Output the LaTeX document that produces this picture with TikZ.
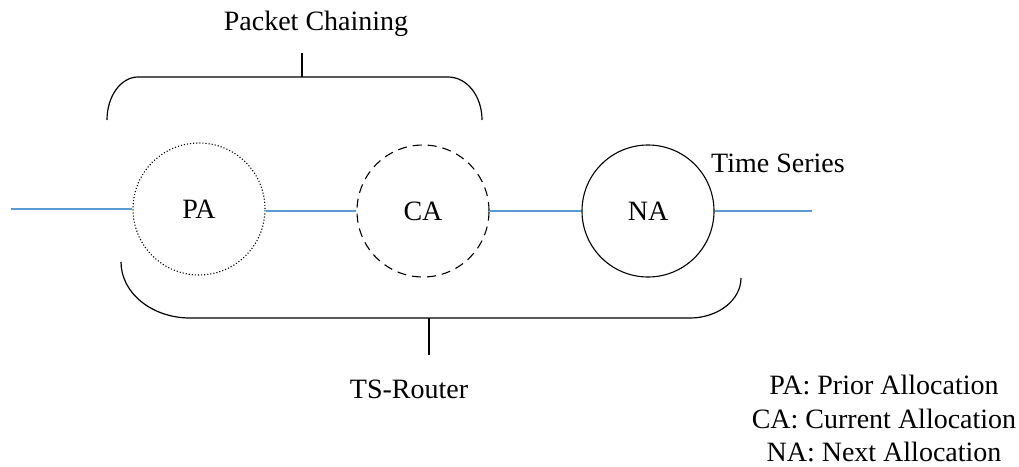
\documentclass[tikz,border=0pt]{standalone}
\usepackage{fontspec}
\setmainfont{Liberation Serif}
\begin{document}
\begin{tikzpicture}[x=1pt,y=-1pt,
  alloc/.style={circle,draw=black,line width=1.1pt,minimum size=132pt,inner sep=0pt,font=\fontsize{28}{32}\selectfont},
  link/.style={draw=linkblue,line width=1.4pt},
  brace/.style={draw=black,line width=1.2pt},
  label/.style={font=\fontsize{28}{32}\selectfont,inner sep=0pt,anchor=base}]
\definecolor{linkblue}{HTML}{5B9BD5}
\useasboundingbox (0,0) rectangle (1019,466);

% allocation slots
\node[alloc,dotted] (pa) at (199,209) {PA};
\node[alloc,dash pattern=on 9pt off 6pt] (ca) at (423,211) {CA};
\node[alloc] (na) at (648,211) {NA};

% time series line
\coordinate (tsin) at (11,209);
\coordinate (tsout) at (812,211);
\draw[link] (tsin) -- (pa.west);
\draw[link] (pa.east |- ca.west) -- (ca.west);
\draw[link] (ca.east) -- (na.west);
\draw[link] (na.east) -- (tsout);

% upper brace: packet chaining
\draw[brace] (107,120) .. controls (107,96) and (121,77) .. (138,77)
  -- (448,77) .. controls (467,77) and (482,96) .. (482,120);
\coordinate (ptop) at (302,53);
\coordinate (pbot) at (302,77);
\draw[brace] (pbot) -- (ptop);

% lower brace: TS-router
\draw[brace] (121,262) .. controls (121,293) and (152,318) .. (190,318)
  -- (690,318) .. controls (718,318) and (741,300) .. (741,278);
\coordinate (rtop) at (429,318);
\coordinate (rbot) at (429,355);
\draw[brace] (rtop) -- (rbot);

% labels
\node[label] (pc) at (316,30) {Packet Chaining};
\node[label] (ts) at (778,172) {Time Series};
\node[label] (tsr) at (409,398) {TS-Router};

% legend
\node[label] (lpa) at (884,394) {PA: Prior Allocation};
\node[label] (lca) at (884,428) {CA: Current Allocation};
\node[label] (lna) at (884,461) {NA: Next Allocation};
\end{tikzpicture}
\end{document}
